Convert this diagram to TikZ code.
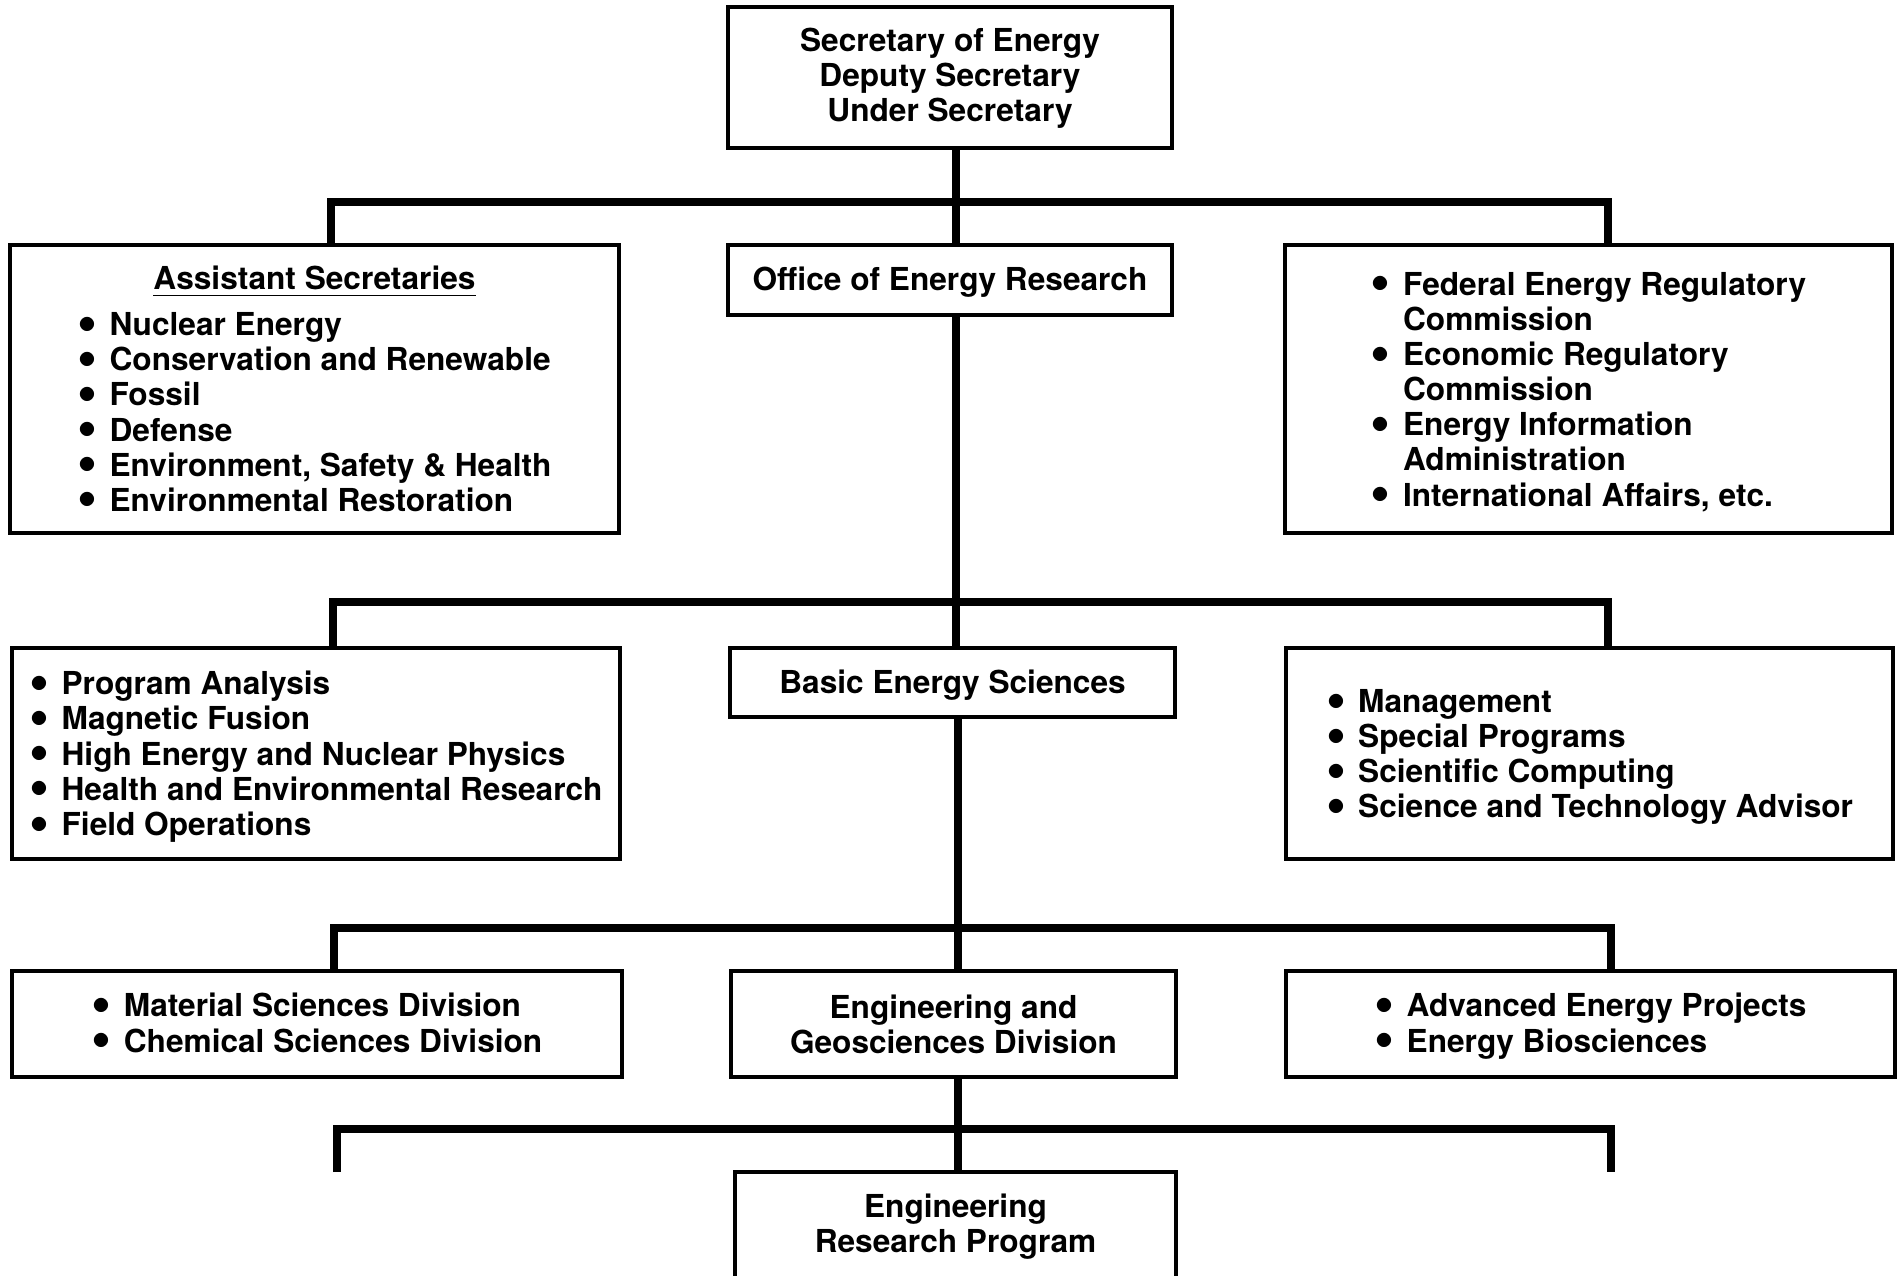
\documentclass[tikz,border=0pt]{standalone}
\usepackage{fontspec}
\setmainfont{TeX Gyre Heros}
\usepackage{array}
\usepackage{graphicx}
\pgfdeclarelayer{edgelayer}
\pgfdeclarelayer{nodelayer}
\pgfsetlayers{edgelayer,nodelayer,main}
\tikzstyle{none} = []
\tikzstyle{box} = [draw, line width=0.9pt, inner sep=0pt, font=\fontsize{9}{10}\selectfont\bfseries]
\tikzstyle{wire} = [line width=2.2pt]
\newcommand{\bul}{\raisebox{-1.6pt}[0pt][0pt]{\scalebox{1.8}{•}}}
\newcommand{\sink}[2]{\raisebox{-#1}[\height][\depth]{#2}}

\begin{document}
\begin{tikzpicture}
	\useasboundingbox (0,0) rectangle (18.99,-12.75);
	\begin{pgfonlayer}{nodelayer}
		\node [style=box, minimum width=4.44cm, minimum height=1.41cm] (0) at (9.50, -0.775) {\sink{0.6pt}{\begin{tabular}{@{}c@{}}Secretary of Energy\\Deputy Secretary\\Under Secretary\end{tabular}}};
		\node [style=box, minimum width=6.09cm, minimum height=2.88cm] (1) at (3.145, -3.89) {\sink{1.3pt}{\begin{tabular}{@{}l@{\hspace{3.5pt}}l@{}}
			\multicolumn{2}{c}{\underline{Assistant Secretaries}}\\[3pt]
			\bul & Nuclear Energy\\
			\bul & Conservation and Renewable\\
			\bul & Fossil\\
			\bul & Defense\\
			\bul & Environment, Safety \& Health\\
			\bul & Environmental Restoration
		\end{tabular}}};
		\node [style=box, minimum width=4.44cm, minimum height=0.70cm] (2) at (9.50, -2.80) {\sink{0.7pt}{Office of Energy Research}};
		\node [style=box, minimum width=6.07cm, minimum height=2.88cm] (3) at (15.885, -3.89) {\sink{1.3pt}{\begin{tabular}{@{}l@{\hspace{3.5pt}}l@{}}
			\bul & Federal Energy Regulatory\\
			     & Commission\\
			\bul & Economic Regulatory\\
			     & Commission\\
			\bul & Energy Information\\
			     & Administration\\
			\bul & International Affairs, etc.
		\end{tabular}}};
		\node [style=box, minimum width=6.08cm, minimum height=2.11cm] (4) at (3.16, -7.535) {\sink{1.3pt}{\begin{tabular}{@{}l@{\hspace{3.5pt}}l@{}}
			\bul & Program Analysis\\
			\bul & Magnetic Fusion\\
			\bul & High Energy and Nuclear Physics\\
			\bul & Health and Environmental Research\\
			\bul & Field Operations
		\end{tabular}}};
		\node [style=box, minimum width=4.45cm, minimum height=0.69cm] (5) at (9.525, -6.825) {\sink{0.7pt}{Basic Energy Sciences}};
		\node [style=box, minimum width=6.07cm, minimum height=2.11cm] (6) at (15.895, -7.535) {\sink{1.3pt}{\begin{tabular}{@{}l@{\hspace{3.5pt}}l@{}}
			\bul & Management\\
			\bul & Special Programs\\
			\bul & Scientific Computing\\
			\bul & Science and Technology Advisor
		\end{tabular}}};
		\node [style=box, minimum width=6.10cm, minimum height=1.06cm] (7) at (3.17, -10.24) {\sink{1pt}{\begin{tabular}{@{}l@{\hspace{3.5pt}}l@{}}
			\bul & Material Sciences Division\\
			\bul & Chemical Sciences Division
		\end{tabular}}};
		\node [style=box, align=center, minimum width=4.45cm, minimum height=1.06cm] (8) at (9.535, -10.24) {Engineering and\\Geosciences Division};
		\node [style=box, minimum width=6.09cm, minimum height=1.06cm] (9) at (15.905, -10.24) {\sink{1pt}{\begin{tabular}{@{}l@{\hspace{3.5pt}}l@{}}
			\bul & Advanced Energy Projects\\
			\bul & Energy Biosciences
		\end{tabular}}};
		\node [style=box, align=center, minimum width=4.41cm, minimum height=1.09cm] (10) at (9.555, -12.265) {Engineering\\Research Program};
		\node [style=none] (11) at (3.31, -2.02) {};
		\node [style=none] (12) at (9.56, -2.02) {};
		\node [style=none] (13) at (16.08, -2.02) {};
		\node [style=none] (14) at (3.33, -6.02) {};
		\node [style=none] (15) at (9.56, -6.02) {};
		\node [style=none] (16) at (16.08, -6.02) {};
		\node [style=none] (17) at (3.34, -9.28) {};
		\node [style=none] (18) at (9.58, -9.28) {};
		\node [style=none] (19) at (16.11, -9.28) {};
		\node [style=none] (20) at (3.37, -11.29) {};
		\node [style=none] (21) at (9.58, -11.29) {};
		\node [style=none] (22) at (16.11, -11.29) {};
		\node [style=none] (23) at (3.37, -11.72) {};
		\node [style=none] (24) at (16.11, -11.72) {};
	\end{pgfonlayer}
	\begin{pgfonlayer}{edgelayer}
		\draw [style=wire] (0.south -| 12.center) to (2.north -| 12.center);
		\draw [style=wire] (1.north -| 11.center) to (11.center) to (13.center) to (3.north -| 13.center);
		\draw [style=wire] (2.south -| 15.center) to (5.north -| 15.center);
		\draw [style=wire] (4.north -| 14.center) to (14.center) to (16.center) to (6.north -| 16.center);
		\draw [style=wire] (5.south -| 18.center) to (8.north -| 18.center);
		\draw [style=wire] (7.north -| 17.center) to (17.center) to (19.center) to (9.north -| 19.center);
		\draw [style=wire] (8.south -| 21.center) to (10.north -| 21.center);
		\draw [style=wire] (23.center) to (20.center) to (22.center) to (24.center);
	\end{pgfonlayer}
\end{tikzpicture}
\end{document}
